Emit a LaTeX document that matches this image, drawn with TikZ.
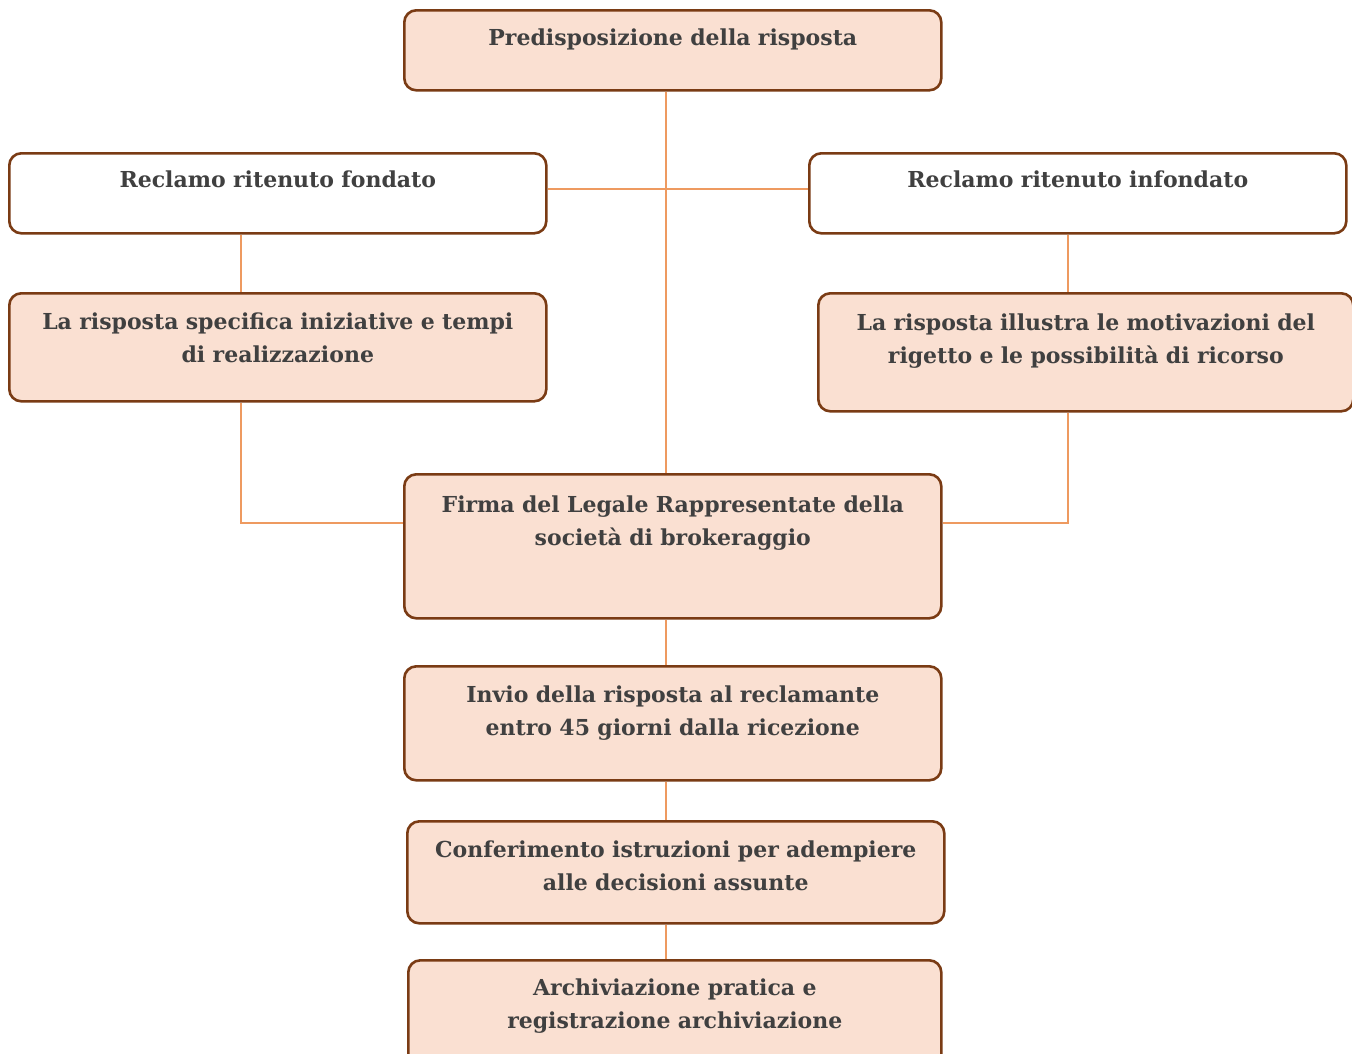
\documentclass[tikz,border=0pt]{standalone}
\usepackage{fontspec}
\setmainfont{DejaVu Serif}
\definecolor{pesca}{HTML}{FAE0D2}
\definecolor{bordo}{HTML}{7A3B14}
\definecolor{filo}{HTML}{EE9A60}
\definecolor{testo}{HTML}{404040}
\tikzset{
	box/.style={draw=bordo, line width=2.6pt, rounded corners=12pt, anchor=north west, inner sep=0pt, align=center, text=testo, font=\fontsize{22}{33.5}\selectfont\bfseries},
	link/.style={draw=filo, line width=1.5pt}
}

\begin{document}
\begin{tikzpicture}[x=1pt, y=-1pt]
			\useasboundingbox (0,0) rectangle (1352,1053);
			\node[box, fill=pesca, text width=537pt, text height=35pt, text depth=45pt] (pred) at (403,9) {Predisposizione della risposta};
			\node[box, fill=white, text width=537pt, text height=34pt, text depth=46pt] (fondato) at (8,152) {Reclamo ritenuto fondato};
			\node[box, fill=white, text width=537pt, text height=34pt, text depth=46pt] (infondato) at (808,152) {Reclamo ritenuto infondato};
			\node[box, fill=pesca, text width=537pt, text height=36pt, text depth=72pt] (iniziative) at (8,292) {La risposta specifica iniziative e tempi\\di realizzazione};
			\node[box, fill=pesca, text width=535pt, text height=37pt, text depth=81pt] (rigetto) at (817,292) {La risposta illustra le motivazioni del\\rigetto e le possibilità di ricorso};
			\node[box, fill=pesca, text width=537pt, text height=38pt, text depth=106pt] (firma) at (403,473) {Firma del Legale Rappresentate della\\società di brokeraggio};
			\node[box, fill=pesca, text width=537pt, text height=36pt, text depth=78pt] (invio) at (403,665) {Invio della risposta al reclamante\\entro 45 giorni dalla ricezione};
			\node[box, fill=pesca, text width=537pt, text height=36pt, text depth=66pt] (istruzioni) at (406,820) {Conferimento istruzioni per adempiere\\alle decisioni assunte};
			\node[box, fill=pesca, text width=533pt, text height=35pt, text depth=76pt] (archivio) at (407,959) {Archiviazione pratica e\\registrazione archiviazione};
			% assi dei collegamenti
			\coordinate (asse) at (666,0);
			\coordinate (sx) at (241,0);
			\coordinate (dx) at (1068,0);
			\coordinate (ramo) at (0,189);
			\coordinate (quota) at (0,523);
			\draw[link] (pred.south -| asse) -- (firma.north -| asse);
			\draw[link] (fondato.east |- ramo) -- (infondato.west |- ramo);
			\draw[link] (fondato.south -| sx) -- (iniziative.north -| sx);
			\draw[link] (iniziative.south -| sx) |- (firma.west |- quota);
			\draw[link] (infondato.south -| dx) -- (rigetto.north -| dx);
			\draw[link] (rigetto.south -| dx) |- (firma.east |- quota);
			\draw[link] (firma.south -| asse) -- (invio.north -| asse);
			\draw[link] (invio.south -| asse) -- (istruzioni.north -| asse);
			\draw[link] (istruzioni.south -| asse) -- (archivio.north -| asse);
\end{tikzpicture}
\end{document}
